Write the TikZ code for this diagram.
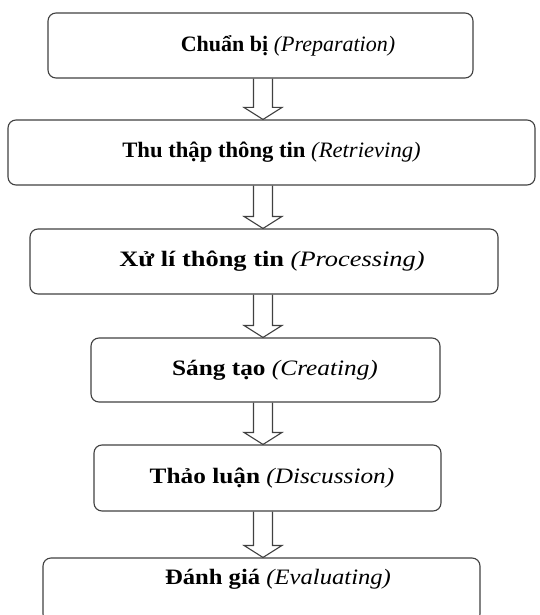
\documentclass[tikz,border=0pt]{standalone}
\usepackage{fontspec}
\setmainfont{Liberation Serif}
\usetikzlibrary{calc}

% hollow double-shaft arrow from one stage to the next
\newcommand{\flowstep}[2]{%
  \draw[hollowarrow]
    ($(#1.south -| col)+(-9.5,0)$) -- ($(#2.north -| col)+(-9.5,-12)$) -- ++(-9.5,0)
    -- (#2.north -| col) -- ++(19,-12) -- ++(-9.5,0) -- ($(#1.south -| col)+(9.5,0)$);}

\begin{document}
\begin{tikzpicture}[x=1pt,y=-1pt,
    stage/.style={draw=black!75,line width=1.1pt,rounded corners=8pt,
      font=\fontsize{22}{25}\selectfont},
    wide/.style={font=\fontsize{22}{25}\selectfont\addfontfeatures{FakeStretch=#1}},
    nudge/.style={execute at begin node={\hspace*{#1}}},
    hollowarrow/.style={draw=black!75,line width=1.1pt}]
      \useasboundingbox (0,0) rectangle (539,615);
      \clip (0,0) rectangle (539,615);
      \coordinate (col) at (263,0);
      \draw
        (260.5,45.5) node[stage,nudge=55pt,minimum width=425pt,minimum height=65pt] (prep){\textbf{Chuẩn bị} \textit{(Preparation)}}
        (271.5,152.5) node[stage,wide=1.03,minimum width=527pt,minimum height=65pt] (retr){\textbf{Thu thập thông tin} \textit{(Retrieving)}}
        (264,261.5) node[stage,wide=1.2,nudge=16pt,minimum width=468pt,minimum height=65pt] (proc){\textbf{Xử lí thông tin} \textit{(Processing)}}
        (265.5,370) node[stage,wide=1.15,nudge=19pt,minimum width=349pt,minimum height=64pt] (creat){\textbf{Sáng tạo} \textit{(Creating)}}
        (267.5,478) node[stage,wide=1.15,nudge=9pt,minimum width=347pt,minimum height=66pt] (disc){\textbf{Thảo luận} \textit{(Discussion)}}
        (261.5,590) node[stage,wide=1.12,nudge=33pt,minimum width=437pt,minimum height=64pt,text depth=26pt] (eval){\textbf{Đánh giá} \textit{(Evaluating)}};
      \flowstep{prep}{retr}
      \flowstep{retr}{proc}
      \flowstep{proc}{creat}
      \flowstep{creat}{disc}
      \flowstep{disc}{eval}
    \end{tikzpicture}
\end{document}
